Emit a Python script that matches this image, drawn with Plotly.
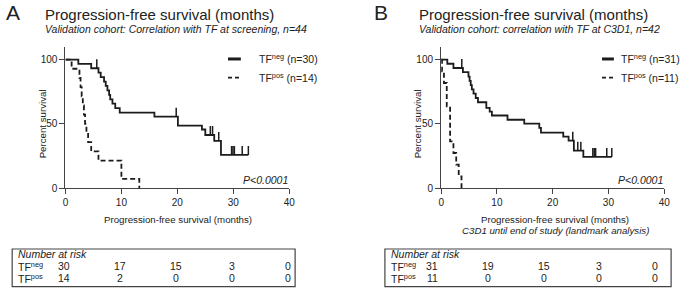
import plotly.graph_objects as go

W, H = 685, 293

# ---------------- data ----------------
# Panel A: TF at screening
a_neg_t = [0, 2.3, 4.6, 5.9, 6.3, 6.9, 7.2, 7.5, 7.8, 8.0, 8.4, 8.9, 9.7, 15.9, 20.1, 24.4, 25.0, 26.6, 27.8]
a_neg_s = [100, 96.7, 93.3, 89.9, 86.4, 82.9, 79.5, 76.0, 72.6, 69.1, 65.7, 62.2, 58.8, 55.6, 48.6, 45.6, 41.3, 36.7, 25.8]
a_neg_cens = [5.6, 19.8, 25.9, 26.3, 27.4, 29.7, 29.95, 30.2, 31.6, 32.7]
a_neg_end = 32.7
a_pos_t = [0, 1.1, 2.5, 2.7, 2.9, 3.1, 3.3, 3.5, 3.75, 4.05, 4.6, 5.9, 10.0, 13.2]
a_pos_s = [100, 92.9, 85.7, 78.6, 71.4, 64.3, 57.1, 50.0, 42.9, 35.7, 28.6, 21.4, 7.1, 0]

# Panel B: TF at C3D1 (landmark)
b_neg_t = [0, 1.1, 2.2, 3.9, 4.9, 5.1, 5.3, 5.5, 5.8, 6.2, 6.6, 8.1, 8.7, 9.1, 11.9, 14.9, 17.6, 17.9, 21.9, 22.85, 23.8, 25.5]
b_neg_s = [100, 96.8, 93.5, 90.2, 86.8, 83.5, 80.2, 76.8, 73.5, 70.1, 66.8, 62.5, 59.5, 56.5, 53.2, 50.2, 46.8, 43.2, 40.0, 36.9, 29.1, 24.2]
b_neg_cens = [3.7, 23.6, 24.5, 25.05, 27.2, 27.45, 27.7, 29.7, 30.6]
b_neg_end = 30.6
b_pos_t = [0, 0.15, 0.5, 1.0, 1.6, 2.2, 2.7, 3.15, 3.65]
b_pos_s = [100, 90.9, 81.8, 63.6, 36.4, 27.3, 18.2, 9.1, 0]

risk_times = [0, 10, 20, 30, 40]
a_risk_neg = [30, 17, 15, 3, 0]
a_risk_pos = [14, 2, 0, 0, 0]
b_risk_neg = [31, 19, 15, 3, 0]
b_risk_pos = [11, 0, 0, 0, 0]

x_ticks = [0, 10, 20, 30, 40]
y_ticks = [0, 50, 100]

# ---------------- helpers ----------------
FONT = "Liberation Sans, Arial, sans-serif"
TXT = "#222222"
LINE = "#1c1c1c"
AX = "#444444"
TICK_H = 7.0


def px(x):
    return x / W


def py(y):
    return 1 - y / H


def surv_at(ts, ss, t):
    s = ss[0]
    for ti, si in zip(ts, ss):
        if ti <= t:
            s = si
    return s


def step_trace(ts, ss, end, dash, xa, ya):
    xs = list(ts)
    ys = list(ss)
    if end is not None and end > xs[-1]:
        xs.append(end)
        ys.append(ys[-1])
    return go.Scatter(x=xs, y=ys, mode="lines", line=dict(shape="hv", color=LINE, width=1.8, dash=dash),
                      xaxis=xa, yaxis=ya, showlegend=False, hoverinfo="skip")


def cens_trace(ts, ss, cens, xa, ya):
    xs, ys = [], []
    for c in cens:
        s = surv_at(ts, ss, c)
        xs += [c, c, None]
        ys += [s, s + TICK_H, None]
    return go.Scatter(x=xs, y=ys, mode="lines", line=dict(color=LINE, width=1.5),
                      xaxis=xa, yaxis=ya, showlegend=False, hoverinfo="skip")


fig = go.Figure()
fig.add_trace(step_trace(a_neg_t, a_neg_s, a_neg_end, "solid", "x", "y"))
fig.add_trace(cens_trace(a_neg_t, a_neg_s, a_neg_cens, "x", "y"))
fig.add_trace(step_trace(a_pos_t, a_pos_s, None, "5px,3px", "x", "y"))
fig.add_trace(step_trace(b_neg_t, b_neg_s, b_neg_end, "solid", "x2", "y2"))
fig.add_trace(cens_trace(b_neg_t, b_neg_s, b_neg_cens, "x2", "y2"))
fig.add_trace(step_trace(b_pos_t, b_pos_s, None, "5px,3px", "x2", "y2"))

axis_common = dict(showline=True, linecolor=AX, linewidth=1.3, ticks="outside", ticklen=5, tickwidth=1.2,
                   tickcolor=AX, showgrid=False, zeroline=False, tickfont=dict(family=FONT, size=10, color=TXT))

y_dom = [py(191.3), py(47.6)]
fig.update_layout(
    width=W, height=H, margin=dict(l=0, r=0, t=0, b=0),
    paper_bgcolor="white", plot_bgcolor="white",
    font=dict(family=FONT, color=TXT, size=10.5),
    xaxis=dict(domain=[px(63.3), px(290)], range=[0, 40], tickvals=x_ticks, anchor="y", **axis_common),
    yaxis=dict(domain=y_dom, range=[0, 110], tickvals=y_ticks, anchor="x", **axis_common),
    xaxis2=dict(domain=[px(444), px(670)], range=[0, 40], tickvals=x_ticks, anchor="y2", **axis_common),
    yaxis2=dict(domain=y_dom, range=[0, 110], tickvals=y_ticks, anchor="x2", **axis_common),
)

ann = []
shapes = []


def text(x, y, s, size, xanchor="left", italic=False, angle=0, xref="paper", xshift=0):
    if italic:
        s = "<i>" + s + "</i>"
    ann.append(dict(x=x if xref != "paper" else px(x), y=py(y), xref=xref, yref="paper", text=s,
                    showarrow=False, xanchor=xanchor, yanchor="middle", textangle=angle, xshift=xshift,
                    font=dict(family=FONT, size=size, color=TXT)))


panels = [
    dict(letter="A", lx=1, tx=41, sub="Validation cohort: Correlation with TF at screening, n=44",
         xref="x", x0=63.3, x1=290, ytitle_x=39.5, leg_x0=228, leg_x1=241, leg_tx=257,
         n_neg=30, n_pos=14, xt_c=177.5, extra=None, box=(9.3, 296), lab_x=13, shift=-1,
         rn=a_risk_neg, rp=a_risk_pos),
    dict(letter="B", lx=374, tx=420, sub="Validation cohort: correlation with TF at C3D1, n=42",
         xref="x2", x0=444, x1=670, ytitle_x=419.5, leg_x0=607, leg_x1=619, leg_tx=624,
         n_neg=31, n_pos=11, xt_c=559.5, extra="C3D1 until end of study (landmark analysis)",
         box=(387, 677), lab_x=391, shift=-9, rn=b_risk_neg, rp=b_risk_pos),
]

for p in panels:
    text(p["lx"], 12.5, p["letter"], 21)
    text(p["tx"], 14.5, "Progression-free survival (months)", 15)
    text(p["tx"], 29, p["sub"], 10.5, italic=True)
    text(p["ytitle_x"], 125.5, "Percent survival", 9.7, xanchor="center", angle=-90)
    text(p["xt_c"], 223, "Progression-free survival (months)", 9.7, xanchor="center")
    if p["extra"]:
        text(p["xt_c"], 235, p["extra"], 9.7, xanchor="center", italic=True)
    text(p["x1"] + 1, 183, "P<0.0001", 10.5, xanchor="right", italic=True)
    # legend
    shapes.append(dict(type="line", xref="paper", yref="paper", x0=px(p["leg_x0"]), x1=px(p["leg_x1"]),
                       y0=py(60), y1=py(60), line=dict(color=LINE, width=3)))
    shapes.append(dict(type="line", xref="paper", yref="paper", x0=px(p["leg_x0"]), x1=px(p["leg_x1"]),
                       y0=py(79), y1=py(79), line=dict(color=LINE, width=1.8, dash="4px,3px")))
    text(p["leg_tx"], 60, "TF<sup>neg</sup> (n=%d)" % p["n_neg"], 10.5)
    text(p["leg_tx"], 79, "TF<sup>pos</sup> (n=%d)" % p["n_pos"], 10.5)
    # risk table
    bx0, bx1 = p["box"]
    shapes.append(dict(type="rect", xref="paper", yref="paper", x0=px(bx0), x1=px(bx1), y0=py(291.5), y1=py(253.3),
                       line=dict(color=AX, width=1.2)))
    text(p["lab_x"], 258.5, "Number at risk", 10.5, italic=True)
    text(p["lab_x"], 271, "TF<sup>neg</sup>", 10.5)
    text(p["lab_x"], 283, "TF<sup>pos</sup>", 10.5)
    for t, vn, vp in zip(risk_times, p["rn"], p["rp"]):
        text(t, 271, str(vn), 10.5, xanchor="center", xref=p["xref"], xshift=p["shift"])
        text(t, 283, str(vp), 10.5, xanchor="center", xref=p["xref"], xshift=p["shift"])

fig.update_layout(annotations=ann, shapes=shapes)
fig.write_html("out.html", config={"displayModeBar": False},
               post_script="document.body.style.margin='0';document.body.style.overflow='hidden';")
